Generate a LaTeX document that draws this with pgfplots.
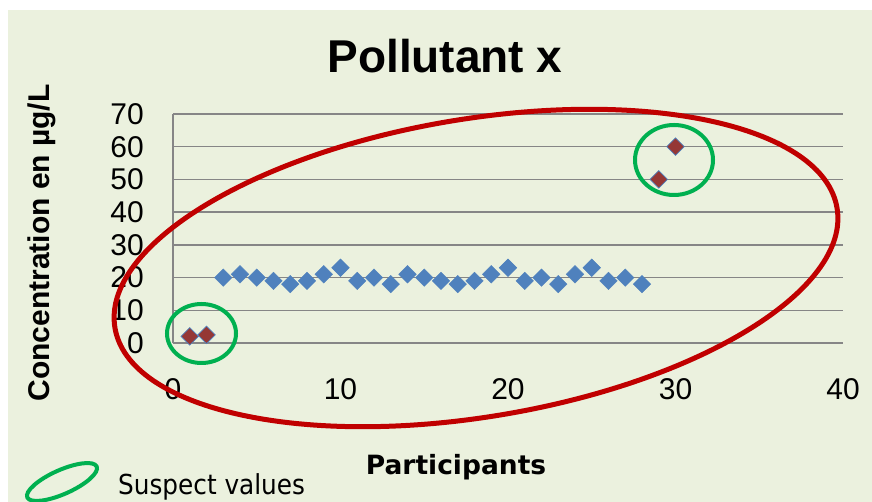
\documentclass[border=0pt]{standalone}
\usepackage{pgfplots}
\pgfplotsset{compat=1.18}
\usepackage{fontspec}
\setmainfont{Liberation Sans}
\newfontfamily\djb{DejaVu Sans}
\newfontfamily\djc{DejaVu Sans Condensed}
\definecolor{bg}{HTML}{EBF1DE}
\definecolor{gridc}{HTML}{868686}
\definecolor{blueM}{HTML}{4F81BD}
\definecolor{redM}{HTML}{953735}
\definecolor{redE}{HTML}{C00000}
\definecolor{greenE}{HTML}{00B050}
\begin{document}
\begin{tikzpicture}[x=1pt,y=1pt]
\useasboundingbox (0,0) rectangle (872,502);
\clip (0,0) rectangle (872,502);
\fill[white] (0,0) rectangle (872,502);
\fill[bg] (8,0) rectangle (872,492);
\begin{axis}[
  at={(173pt,159pt)}, anchor=south west,
  scale only axis, width=670pt, height=229pt,
  xmin=0, xmax=40, ymin=0, ymax=70,
  xtick={0,10,20,30,40}, ytick={0,10,20,30,40,50,60,70},
  axis lines*=left,
  axis line style={draw=gridc, line width=1.3pt},
  ymajorgrids,
  grid style={draw=gridc, line width=1.3pt},
  major tick length=0pt,
  extra y ticks={30}, extra y tick labels={},
  extra y tick style={grid style={draw=gridc, line width=2.2pt}},
  /pgf/number format/assume math mode=true,
  ticklabel style={font=\fontsize{30}{36}\selectfont, inner sep=0pt},
  xticklabel style={anchor=north, yshift=-35pt},
  yticklabel style={anchor=east, xshift=-29pt},
  clip=false,
]
\addplot[only marks, mark=square*, mark size=6.2pt,
  mark options={rotate=45, fill=blueM, draw=blueM}] table {
x y
3 20
4 21
5 20
6 19
7 18
8 19
9 21
10 23
11 19
12 20
13 18
14 21
15 20
16 19
17 18
18 19
19 21
20 23
21 19
22 20
23 18
24 21
25 23
26 19
27 20
28 18
};
\addplot[only marks, mark=square*, mark size=6.2pt,
  mark options={rotate=45, fill=redM, draw=blueM, line width=0.7pt}] table {
x y
1 2
2 2.5
29 50
30 60
};
\end{axis}
% annotations
\draw[redE, line width=5pt, rotate around={9.4:(476,234)}] (476,234) ellipse [x radius=366, y radius=149];
\draw[greenE, line width=4pt] (201.5,168.5) ellipse [x radius=34.5, y radius=29.5];
\draw[greenE, line width=4pt] (674,342) ellipse [x radius=39, y radius=35];
\draw[greenE, line width=4pt, rotate around={24:(62,20)}] (62,20) ellipse [x radius=38, y radius=12];
% texts
\node[anchor=base, inner sep=0pt, font=\fontsize{46}{52}\selectfont\bfseries] at (445,429) {Pollutant x};
\node[anchor=center, inner sep=0pt, rotate=90, font=\fontsize{30}{36}\selectfont\bfseries] at (42,259) {Concentration en µg/L};
\node[anchor=base, inner sep=0pt, font=\djb\fontsize{26.5}{32}\selectfont\bfseries] at (456,27) {Participants};
\node[anchor=base west, inner sep=0pt, font=\djc\fontsize{27.5}{32}\selectfont] at (118,7) {Suspect values};
\end{tikzpicture}
\end{document}
